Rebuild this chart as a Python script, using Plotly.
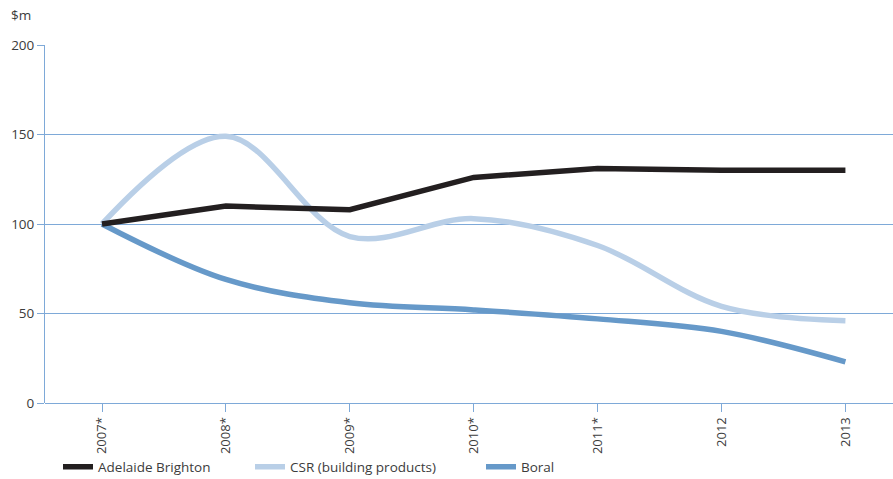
import plotly.graph_objects as go

years = ["2007*", "2008*", "2009*", "2010*", "2011*", "2012", "2013"]
adelaide = [100, 110, 108, 126, 131, 130, 130]
csr = [100, 149, 93, 103, 88, 54, 46]
boral = [100, 69, 56, 52, 47, 40, 23]

GRID = "#7ea9d8"
TEXT = "#3c3c3c"
FONT = "Open Sans"

fig = go.Figure()
fig.add_trace(go.Scatter(x=years, y=csr, name="CSR (building products)", mode="lines",
                         line=dict(color="#b9cfe7", width=5.5, shape="spline", smoothing=1.0),
                         legend="legend2"))
fig.add_trace(go.Scatter(x=years, y=boral, name="Boral", mode="lines",
                         line=dict(color="#6699c9", width=5.5, shape="spline", smoothing=1.0),
                         legend="legend3"))
fig.add_trace(go.Scatter(x=years, y=adelaide, name="Adelaide Brighton", mode="lines",
                         line=dict(color="#231f20", width=5.5),
                         legend="legend"))

leg_common = dict(orientation="h", yanchor="middle", xanchor="left", yref="container",
                  xref="container", bgcolor="rgba(0,0,0,0)",
                  font=dict(family=FONT, size=13.5, color=TEXT), itemwidth=30)

fig.update_layout(
    width=893, height=479,
    margin=dict(l=45, r=0, t=45, b=76, autoexpand=False),
    plot_bgcolor="white", paper_bgcolor="white",
    font=dict(family=FONT, size=13, color=TEXT),
    showlegend=True,
    legend=dict(x=58 / 893, y=1 - 467 / 479, **leg_common),
    legend2=dict(x=250 / 893, y=1 - 467 / 479, **leg_common),
    legend3=dict(x=481 / 893, y=1 - 467 / 479, **leg_common),
    xaxis=dict(type="category", range=[-0.46, 6.384], showgrid=False, automargin=False,
               showline=False, ticks="outside", ticklen=8, tickcolor=GRID,
               tickangle=-90, tickfont=dict(family=FONT, size=13, color=TEXT),
               zeroline=False),
    yaxis=dict(range=[0, 200], tickvals=[0, 50, 100, 150, 200], showgrid=True,
               automargin=False,
               gridcolor=GRID, gridwidth=1, showline=True, linecolor=GRID,
               linewidth=1, ticks="outside", ticklen=7, tickcolor=GRID,
               tickfont=dict(family=FONT, size=13.5, color=TEXT), zeroline=True,
               zerolinecolor=GRID, zerolinewidth=1),
    annotations=[dict(text="$m", xref="paper", yref="paper", x=0, y=1,
                      xshift=-36, yshift=30, showarrow=False, xanchor="left",
                      yanchor="middle", font=dict(family=FONT, size=13.5, color=TEXT))],
)

fig.write_html("out.html")
